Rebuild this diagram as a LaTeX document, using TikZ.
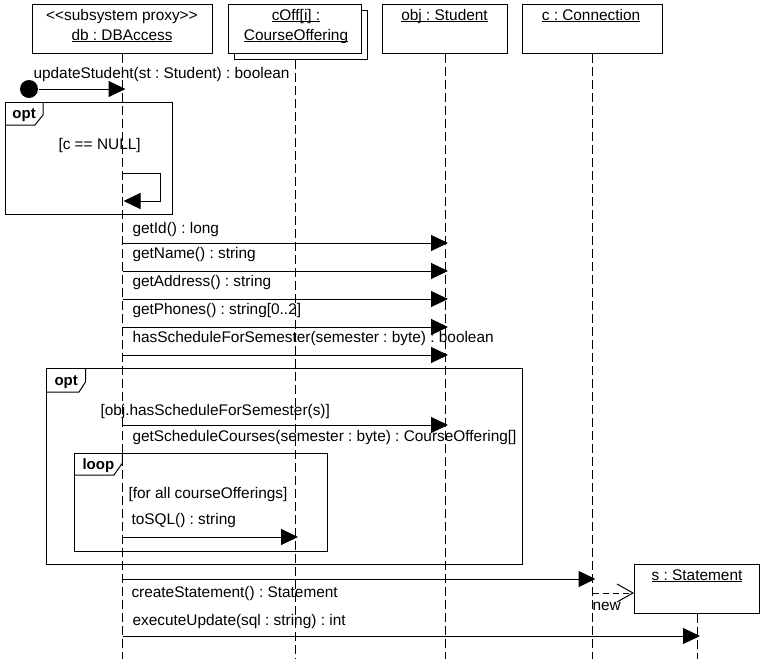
\documentclass[tikz,border=0pt]{standalone}
\usepackage{fontspec}
\setmainfont{Liberation Sans}
\usetikzlibrary{arrows.meta}
\newcommand\ulx[1]{\setbox0\hbox{#1}\rlap{\rule[-2pt]{\wd0}{0.9pt}}\box0}
\begin{document}
\frenchspacing
\begin{tikzpicture}[x=1pt,y=-1pt,line width=1pt,
  every node/.style={font=\fontsize{15.4}{18}\selectfont, inner sep=0pt},
  txt/.style={text height=12pt, text depth=2pt},
  head/.style={draw, fill=white, anchor=north west, minimum height=49pt},
  life/.style={dash pattern=on 9pt off 4pt},
  msg/.style={-{Triangle[length=17pt,width=16pt]}},
  newmsg/.style={dash pattern=on 6pt off 4pt, -{Straight Barb[length=16pt,width=18pt]}},
  lbl/.style={txt, anchor=west},
  tag/.style={txt, anchor=west, font=\bfseries\fontsize{15}{18}\selectfont}]

\useasboundingbox (0,0) rectangle (765,659);
\coordinate (bot) at (0,659);

% heads
\node[head, minimum width=180pt] (db) at (32,4) {};
\node[txt] (dbst) at (122,15) {<{}<subsystem proxy>{}>};
\node[txt] (dbname) at (122,35) {\ulx{db : DBAccess}};

\node[head, minimum width=133pt] (coffb) at (234,10) {};
\node[head, minimum width=133pt] (coff) at (228,4) {};
\node[txt] (coffa) at (296,15) {\ulx{cOff[i] :}};
\node[txt] (coffn) at (296,35) {\ulx{CourseOffering}};

\node[head, minimum width=125pt] (obj) at (382,4) {};
\node[txt] (objn) at (444.5,15) {\ulx{obj : Student}};

\node[head, minimum width=140pt] (con) at (522,4) {};
\node[txt] (conn) at (591,15) {\ulx{c : Connection}};

\node[head, minimum width=125pt] (st) at (634,564) {};
\node[txt] (stn) at (697,575) {\ulx{s : Statement}};

% lifelines
\draw[life] (db.south) -- (db.south |- bot);
\draw[life] (coff.south |- coffb.south) -- (coff.south |- bot);
\draw[life] (obj.south) -- (obj.south |- bot);
\draw[life] (con.south) -- (con.south |- bot);
\draw[life] (st.south) -- (st.south |- bot);

\coordinate (dbL) at (db.south);
\coordinate (coffT) at ([xshift=3pt]coff.south);
\coordinate (objT) at ([xshift=3pt]obj.south);
\coordinate (conT) at ([xshift=3pt]con.south);
\coordinate (stT) at ([xshift=3pt]st.south);

% found message
\node[circle, fill, minimum size=18pt] (start) at (29,89) {};
\draw[msg] (start) -- ([xshift=3pt]dbL |- start);
\node[lbl] (l0) at (33,73) {updateStudent(st : Student) : boolean};

% opt 1
\draw (5,102) rectangle (172,214);
\draw (5,125) -- (35,125) -- (43,115) -- (43,102);
\node[tag] (opt1) at (12,113) {opt};
\node[lbl] (g1) at (58,144) {[c == NULL]};
\draw[msg] (dbL |- 0,173) -- (160,173) -- (160,201) -- ([xshift=1pt]dbL |- 0,201);

% messages to obj
\draw[msg] (dbL |- 0,243) -- (objT |- 0,243);
\node[lbl] (l1) at (132,228) {getId() : long};
\draw[msg] (dbL |- 0,271) -- (objT |- 0,271);
\node[lbl] (l2) at (132,253) {getName() : string};
\draw[msg] (dbL |- 0,299) -- (objT |- 0,299);
\node[lbl] (l3) at (132,281) {getAddress() : string};
\draw[msg] (dbL |- 0,327) -- (objT |- 0,327);
\node[lbl] (l4) at (132,309) {getPhones() : string[0..2]};
\draw[msg] (dbL |- 0,355) -- (objT |- 0,355);
\node[lbl] (l5) at (132,337) {hasScheduleForSemester(semester : byte) : boolean};

% opt 2
\draw (46,368) rectangle (522,564);
\draw (46,392) -- (79,392) -- (85.5,382) -- (85.5,368);
\node[tag] (opt2) at (54,380) {opt};
\node[lbl] (g2) at (100,410) {[obj.hasScheduleForSemester(s)]};
\draw[msg] (dbL |- 0,425) -- (objT |- 0,425);
\node[lbl] (l6) at (132,436) {getScheduleCourses(semester : byte) : CourseOffering[]};

% loop
\draw (74.5,453) rectangle (327,551);
\draw (74.5,475) -- (114,475) -- (122.4,463) -- (122.4,453);
\node[tag] (loop) at (82,464) {loop};
\node[lbl] (g3) at (128,493) {[for all courseOfferings]};
\node[lbl] (l7) at (131,519) {toSQL() : string};
\draw[msg] (dbL |- 0,537) -- (coffT |- 0,537);

% bottom messages
\draw[msg] (dbL |- 0,579) -- (conT |- 0,579);
\node[lbl] (l8) at (131,592) {createStatement() : Statement};
\draw[newmsg] (con.south |- 0,593) -- (st.west |- 0,593);
\node[lbl] (lnew) at (592,605) {new};
\draw[msg] (dbL |- 0,636) -- (stT |- 0,636);
\node[lbl] (l9) at (132,620) {executeUpdate(sql : string) : int};
\end{tikzpicture}
\end{document}
